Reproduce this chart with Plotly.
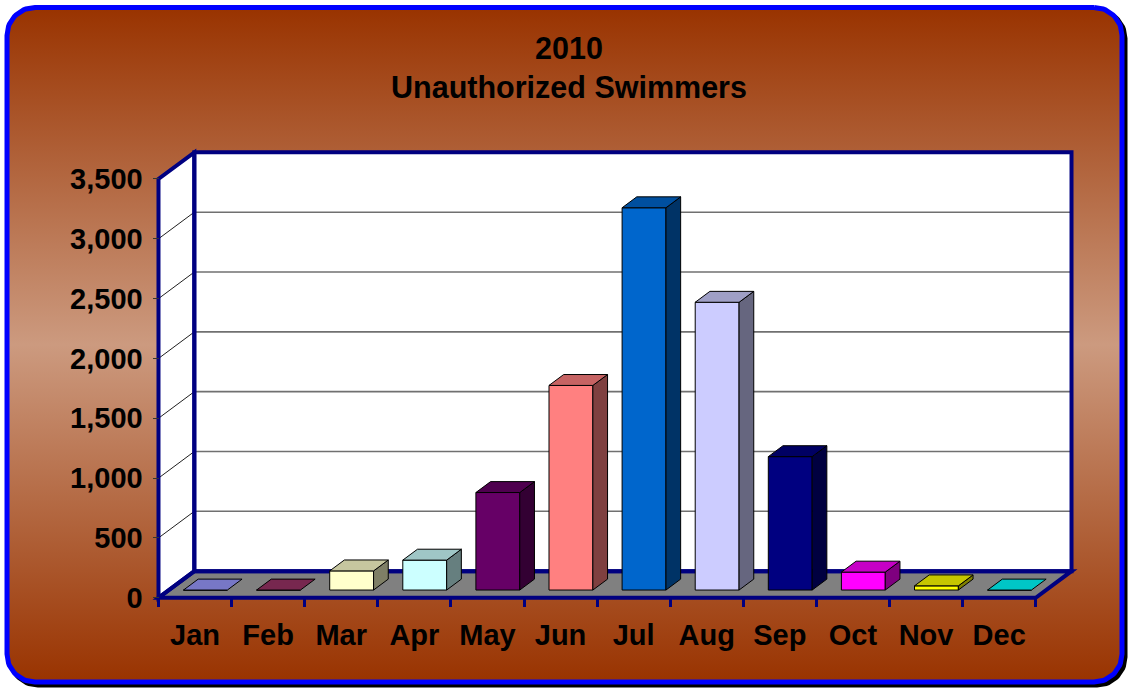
import numpy as np
import plotly.graph_objects as go

# ---------------- data ----------------
months = ["Jan", "Feb", "Mar", "Apr", "May", "Jun", "Jul", "Aug", "Sep", "Oct", "Nov", "Dec"]
swimmers = [0, 0, 160, 250, 815, 1710, 3195, 2405, 1115, 150, 35, 0]
bar_colors = ["#9999FF", "#993366", "#FFFFCC", "#CCFFFF", "#660066", "#FF8080",
              "#0066CC", "#CCCCFF", "#000080", "#FF00FF", "#FFFF00", "#00FFFF"]
y_tick_values = [0, 500, 1000, 1500, 2000, 2500, 3000, 3500]
y_tick_labels = ["0", "500", "1,000", "1,500", "2,000", "2,500", "3,000", "3,500"]
title_lines = ["2010", "Unauthorized Swimmers"]

# ---------------- geometry / style ----------------
W, H = 1130, 690
PX0 = 158.5     # pixel of left category boundary
PXC = 73.1      # pixels per category
PY0 = 599.5     # pixel of value 0 (front)
PYU = 0.12      # pixels per unit
DX = 0.49       # depth offset in category units
DY = 222.5      # depth offset in value units
F0, F1 = 0.29, 0.70   # bar front/back depth fractions
BW = 0.6
NAVY = "#000080"
FONT = "Liberation Sans, Arial, sans-serif"

xmin, xmax = -0.75, 12.25
ymin, ymax = -120, 3800


def xpix(v):
    return PX0 + (v + 0.5) * PXC


def ypix(v):
    return PY0 - v * PYU


def shade(hexcol, f):
    h = hexcol.lstrip("#")
    r, g, b = (int(h[k:k + 2], 16) for k in (0, 2, 4))
    return "#%02x%02x%02x" % (int(r * f), int(g * f), int(b * f))


def rounded_rect(x0, y0, x1, y1, r, n=20):
    xs, ys = [], []
    for cx, cy, a0, a1 in [(x1 - r, y0 + r, -90, 0), (x1 - r, y1 - r, 0, 90),
                           (x0 + r, y1 - r, 90, 180), (x0 + r, y0 + r, 180, 270)]:
        t = np.radians(np.linspace(a0, a1, n))
        xs += list(cx + r * np.cos(t))
        ys += list(cy + r * np.sin(t))
    xs.append(xs[0])
    ys.append(ys[0])
    return xs, ys


fig = go.Figure()

# ---------------- background panel (pixel axis) ----------------
bx, by = rounded_rect(7, 7.5, 1122, 684, 28)
fig.add_trace(go.Scatter(x=[v + 3 for v in bx], y=[v + 3 for v in by], mode="lines",
                         line=dict(color="black", width=5), xaxis="x", yaxis="y",
                         hoverinfo="skip", showlegend=False))
fig.add_trace(go.Scatter(x=bx, y=by, mode="lines", fill="toself",
                         fillgradient=dict(type="vertical",
                                           colorscale=[[0, "#993300"], [0.5, "#CC9A7F"], [1, "#993300"]]),
                         line=dict(color="#0000FF", width=5), xaxis="x", yaxis="y",
                         hoverinfo="skip", showlegend=False))

# ---------------- walls / floor (shapes in data coords) ----------------
L, R = -0.5, len(months) - 0.5
TOP = y_tick_values[-1]
shapes = []


def poly(pts):
    return "M " + " L ".join(f"{x},{y}" for x, y in pts) + " Z"


floor = [(L, 0), (R, 0), (R + DX, DY), (L + DX, DY)]
left_wall = [(L, 0), (L, TOP), (L + DX, TOP + DY), (L + DX, DY)]
back_wall = [(L + DX, DY), (R + DX, DY), (R + DX, TOP + DY), (L + DX, TOP + DY)]

for pts, fc in [(floor, "#808080"), (left_wall, "white"), (back_wall, "white")]:
    shapes.append(dict(type="path", path=poly(pts), xref="x2", yref="y2", layer="below",
                       fillcolor=fc, line=dict(width=0)))
for v in y_tick_values[1:-1]:
    shapes.append(dict(type="line", xref="x2", yref="y2", layer="below",
                       x0=L, y0=v, x1=L + DX, y1=v + DY, line=dict(color="#202020", width=1)))
    shapes.append(dict(type="line", xref="x2", yref="y2", layer="below",
                       x0=L + DX, y0=v + DY, x1=R + DX, y1=v + DY, line=dict(color="#707070", width=1.6)))
for pts in [floor, left_wall, back_wall]:
    shapes.append(dict(type="path", path=poly(pts), xref="x2", yref="y2", layer="below",
                       fillcolor="rgba(0,0,0,0)", line=dict(color=NAVY, width=4)))

# ---------------- bars ----------------
xs_front = [i + F0 * DX for i in range(len(months))]
fig.add_trace(go.Bar(x=xs_front, y=swimmers, base=F0 * DY, width=BW,
                     marker=dict(color=bar_colors, line=dict(color="black", width=1)),
                     xaxis="x2", yaxis="y2", hoverinfo="skip", showlegend=False))

d = F1 - F0
for i, (v, c) in enumerate(zip(swimmers, bar_colors)):
    xl = i - BW / 2 + F0 * DX
    xr = xl + BW
    yb = F0 * DY
    yt = yb + v
    ox, oy = d * DX, d * DY
    if v > 0:
        fig.add_trace(go.Scatter(x=[xr, xr + ox, xr + ox, xr, xr], y=[yb, yb + oy, yt + oy, yt, yb],
                                 mode="lines", fill="toself", fillcolor=shade(c, 0.5),
                                 line=dict(color="black", width=1), xaxis="x2", yaxis="y2",
                                 hoverinfo="skip", showlegend=False))
    fig.add_trace(go.Scatter(x=[xl, xr, xr + ox, xl + ox, xl], y=[yt, yt, yt + oy, yt + oy, yt],
                             mode="lines", fill="toself", fillcolor=shade(c, 0.78),
                             line=dict(color="black", width=1), xaxis="x2", yaxis="y2",
                             hoverinfo="skip", showlegend=False))

tickfont = dict(family=FONT, size=29, color="black", weight="bold")

fig.update_layout(
    width=W, height=H, autosize=False,
    margin=dict(l=0, r=0, t=0, b=0),
    paper_bgcolor="white", plot_bgcolor="rgba(0,0,0,0)",
    showlegend=False,
    shapes=shapes,
    title=dict(text="<br>".join(title_lines), x=569 / W, xanchor="center",
               y=(H - 59) / H, yanchor="middle", yref="paper",
               font=dict(family=FONT, size=30.5, color="black", weight="bold")),
    xaxis=dict(domain=[0, 1], range=[0, W], visible=False, fixedrange=True),
    yaxis=dict(domain=[0, 1], range=[H, 0], visible=False, fixedrange=True),
    xaxis2=dict(domain=[xpix(xmin) / W, xpix(xmax) / W], range=[xmin, xmax],
                anchor="free", position=(H - PY0) / H,
                tickmode="array", tickvals=list(range(len(months))), ticktext=months,
                ticks="", showline=False, showgrid=False, zeroline=False,
                tickfont=tickfont, ticklabelstandoff=17,
                minor=dict(tickmode="array", tickvals=[i - 0.5 for i in range(len(months) + 1)],
                           ticks="outside", ticklen=8, tickwidth=3, tickcolor=NAVY, showgrid=False)),
    yaxis2=dict(domain=[(H - ypix(ymin)) / H, (H - ypix(ymax)) / H], range=[ymin, ymax],
                anchor="free", position=PX0 / W,
                tickmode="array", tickvals=y_tick_values, ticktext=y_tick_labels,
                ticks="outside", ticklen=6, tickwidth=1, tickcolor="#333333",
                ticklabelstandoff=4,
                showline=False, showgrid=False, zeroline=False, tickfont=tickfont),
)

fig.write_html("out.html", config={"displayModeBar": False},
               post_script="document.body.style.margin='0px';")
